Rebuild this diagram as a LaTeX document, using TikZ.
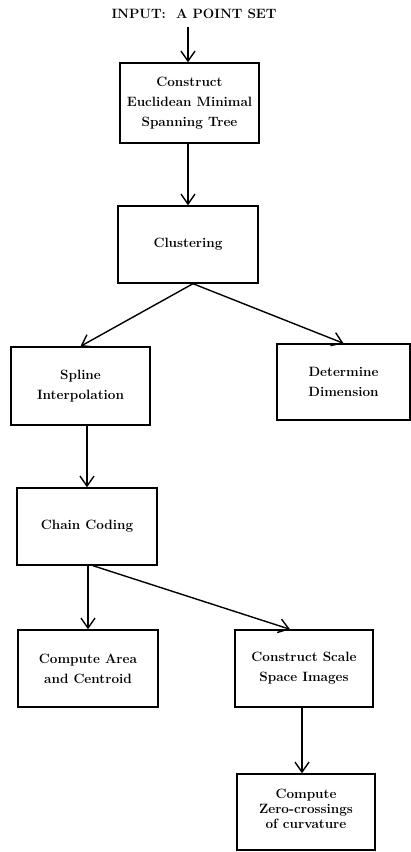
\documentclass[tikz,border=0pt]{standalone}
\usepackage{tikz}
\usetikzlibrary{arrows.meta, positioning, calc}

\begin{document}
\begin{tikzpicture}[
  x=1pt, y=-1pt,
  block/.style = {draw, line width=1.4pt, minimum height=77pt, minimum width=139pt, inner sep=0pt, align=center,
                  font=\fontsize{13.5}{20}\selectfont\bfseries},
  arrow/.style = {line width=1.4pt, -{Straight Barb[length=10pt, width=14pt, line width=1.4pt]}}
]
  \useasboundingbox (0,0) rectangle (411,852);

  % Input
  \node[font=\fontsize{13.5}{16}\selectfont\bfseries] (input) at (194,14) {INPUT:\ \ A POINT SET};

  % Tree and clusters
  \node[block, minimum height=80pt] (emst) at (189.5,103) {Construct\\Euclidean Minimal\\Spanning Tree};
  \node[block, minimum width=140pt] (clust) at (188,244.5) {Clustering};

  % Second row
  \node[block, minimum height=78pt] (spline) at (80.5,386) {Spline\\Interpolation};
  \node[block, minimum width=133pt, minimum height=76pt] (dim) at (343.5,382) {Determine\\Dimension};

  % Chain coding and below
  \node[block, minimum width=140pt] (chain) at (87,526.5) {Chain Coding};
  \node[block, minimum width=140pt] (area) at (88,668.5) {Compute Area\\and Centroid};
  \node[block, minimum width=138pt] (scale) at (304,668.5) {Construct Scale\\Space Images};
  \node[block, minimum width=138pt, minimum height=76pt,
        font=\fontsize{13.5}{15}\selectfont\bfseries, text depth=6pt] (zero) at (306,812) {Compute\\Zero-crossings\\of curvature};

  % Connectors
  \draw[arrow] (input.south -| 188,0) ++(0,5) -- (emst.north -| 188,0);
  \draw[arrow] (emst.south -| 188,0) -- (clust.north);
  \draw[arrow] ($(clust.south)+(5,0)$) -- (spline.north);
  \draw[arrow] ($(clust.south)+(5,0)$) -- (dim.north);
  \draw[arrow] (chain.north |- spline.south) -- (chain.north);
  \draw[arrow] (area.north |- chain.south) -- (area.north);
  \draw[arrow] ($(chain.south)+(6,0)$) -- ($(scale.north west)!0.4!(scale.north east)$);
  \draw[arrow] ($(scale.south)+(-2,0)$) -- ($(zero.north)+(-4,0)$);

\end{tikzpicture}
\end{document}
